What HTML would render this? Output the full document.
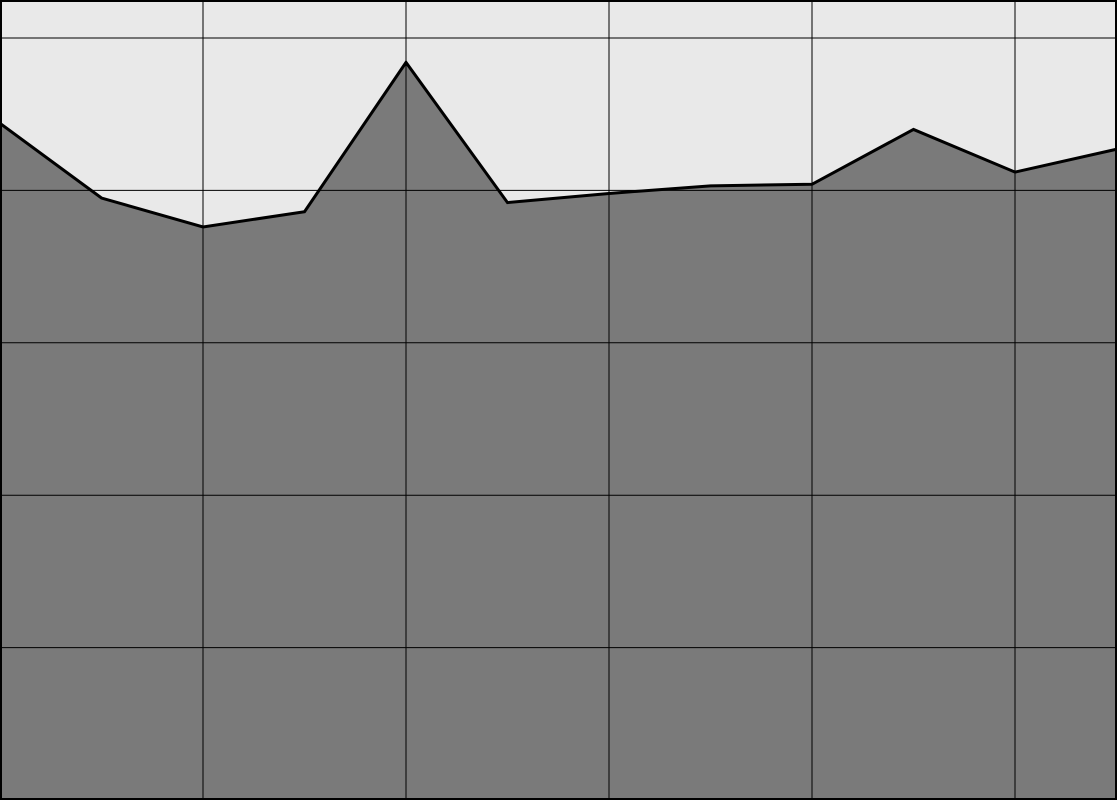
<!DOCTYPE html>
<html><head><meta charset="utf-8"><style>
html,body{margin:0;padding:0;background:#fff;}
svg{display:block;}
</style></head><body>
<svg id="chart" width="1117" height="800" viewBox="0 0 1117 800" xmlns="http://www.w3.org/2000/svg">
<rect x="0" y="0" width="1117" height="800" fill="#e9e9e9"/>
<g id="area-layer"></g>
<g id="grid-layer"></g>
<g id="line-layer"></g>
<rect x="1" y="1" width="1115" height="798" fill="none" stroke="#000" stroke-width="2"/>
</svg>
<script>
const categories = [0,1,2,3,4,5,6,7,8,9,10,11];
const values = [4.44,3.95,3.76,3.86,4.84,3.92,3.98,4.03,4.04,4.40,4.12,4.27];
const yTicks = [1,2,3,4,5];
const xTicks = [2,4,6,8,10];

const NS = "http://www.w3.org/2000/svg";
const W = 1117, H = 800;
function xs(i){ return i * 101.5; }
function ys(v){ return H - v * 152.4; }

const grid = document.getElementById('grid-layer');
yTicks.forEach(t => {
  const l = document.createElementNS(NS,'line');
  
  
  l.setAttribute('x1',0); l.setAttribute('x2',W);
  l.setAttribute('y1',ys(t)); l.setAttribute('y2',ys(t));
  l.setAttribute('stroke','#000'); l.setAttribute('stroke-width','1');
  grid.appendChild(l);
});
xTicks.forEach(t => {
  const l = document.createElementNS(NS,'line');
  
  
  l.setAttribute('x1',xs(t)); l.setAttribute('x2',xs(t));
  l.setAttribute('y1',0); l.setAttribute('y2',H);
  l.setAttribute('stroke','#000'); l.setAttribute('stroke-width','1');
  grid.appendChild(l);
});

const pts = categories.map((c,i) => xs(c) + ',' + ys(values[i]));
const area = document.createElementNS(NS,'polygon');


area.setAttribute('points', xs(categories[0]) + ',' + H + ' ' + pts.join(' ') + ' ' + xs(categories[categories.length-1]) + ',' + H);
area.setAttribute('fill', '#7a7a7a');
document.getElementById('area-layer').appendChild(area);

const line = document.createElementNS(NS,'polyline');


line.setAttribute('points', pts.join(' '));
line.setAttribute('fill', 'none');
line.setAttribute('stroke', '#000');
line.setAttribute('stroke-width', '3');
line.setAttribute('stroke-linejoin', 'miter');
document.getElementById('line-layer').appendChild(line);
</script>
</body></html>
